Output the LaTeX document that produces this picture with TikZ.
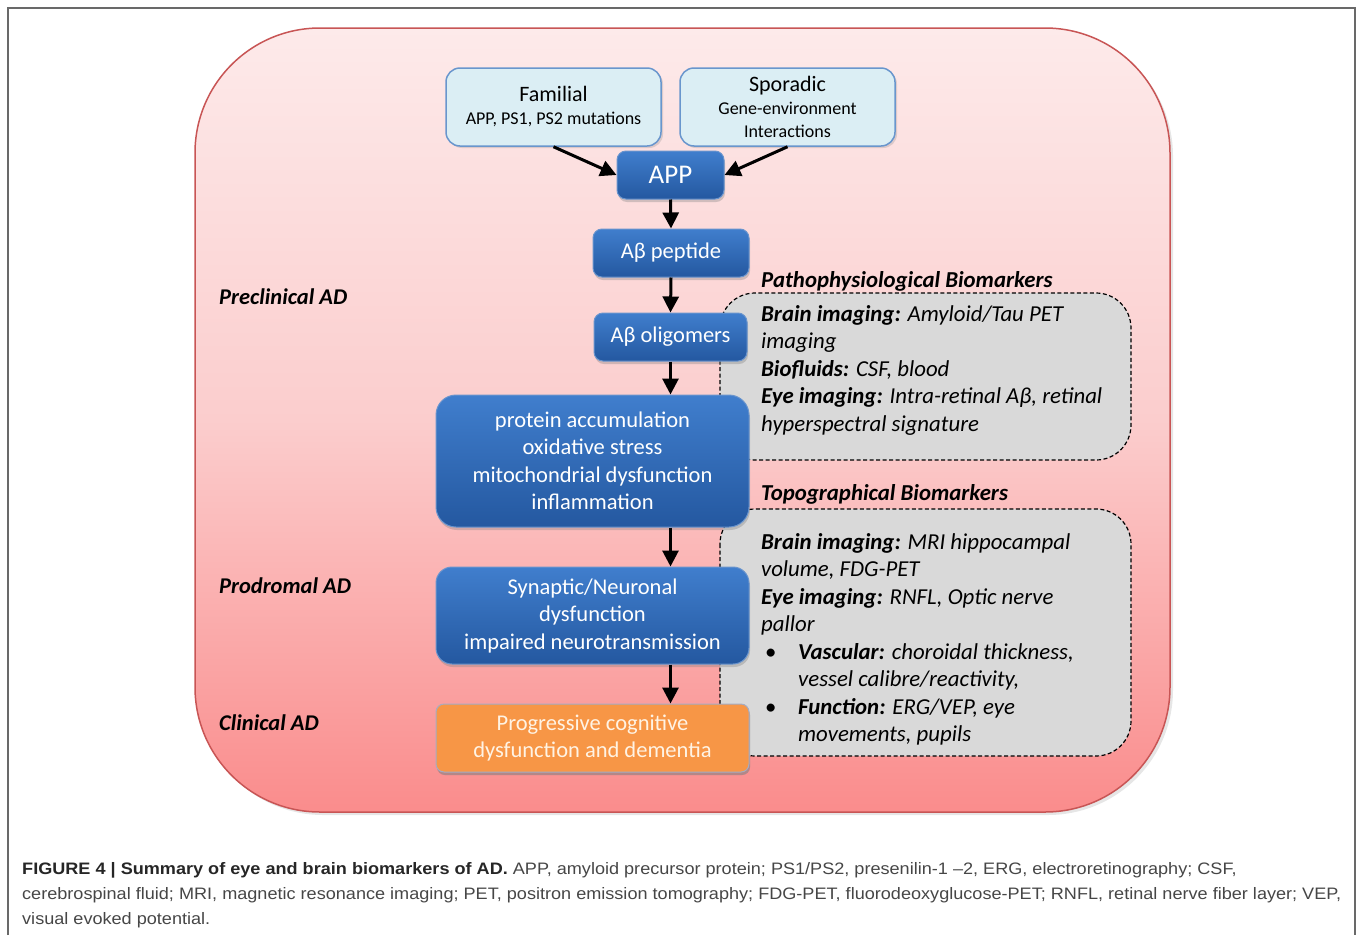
\documentclass[tikz,border=0pt]{standalone}
\usepackage{fontspec}
\setmainfont{Carlito}
\newfontfamily\capfont[FakeStretch=1.09]{Liberation Sans}
\usetikzlibrary{arrows.meta,shadows}

\definecolor{framegray}{RGB}{105,105,105}
\definecolor{bgtop}{RGB}{253,234,234}
\definecolor{bgmid}{RGB}{251,205,205}
\definecolor{bgbot}{RGB}{250,140,140}
\definecolor{bgedge}{RGB}{200,85,85}
\definecolor{stepblue}{RGB}{64,126,205}
\definecolor{stepdark}{RGB}{36,88,160}
\definecolor{stepedge}{RGB}{105,148,205}
\definecolor{srcfill}{RGB}{219,238,244}
\definecolor{srcedge}{RGB}{105,150,205}
\definecolor{endfill}{RGB}{247,150,70}
\definecolor{endedge}{RGB}{165,172,195}
\definecolor{endtext}{RGB}{255,243,228}
\definecolor{markfill}{RGB}{217,217,217}
\definecolor{captext}{RGB}{70,70,70}

\tikzset{
  stagepanel/.style={rounded corners=125pt, draw=bgedge, line width=1.5pt,
    top color=bgtop, bottom color=bgbot, middle color=bgmid,
    drop shadow={opacity=0.2, shadow xshift=3pt, shadow yshift=-3pt}},
  markpanel/.style={rounded corners=35pt, fill=markfill, draw=black,
    dash pattern=on 4pt off 2.5pt, line width=1.2pt},
  srcbox/.style={rounded corners=14pt, fill=srcfill, draw=srcedge, line width=1.5pt,
    align=center, inner sep=0pt, minimum width=215pt, minimum height=78pt,
    font=\fontsize{18}{23}\selectfont,
    drop shadow={opacity=0.25, shadow xshift=2pt, shadow yshift=-2pt}},
  flowbox/.style={rounded corners=9pt, top color=stepblue, bottom color=stepdark,
    draw=stepedge, line width=1pt, text=white, align=center, inner sep=0pt,
    font=\fontsize{22.5}{27.5}\selectfont,
    drop shadow={opacity=0.35, shadow xshift=1pt, shadow yshift=-3pt}},
  endbox/.style={flowbox, top color=endfill, bottom color=endfill, draw=endedge,
    text=endtext},
  stagelabel/.style={anchor=west, inner sep=0pt,
    font=\bfseries\itshape\fontsize{22.5}{27.5}\selectfont},
  marktext/.style={anchor=base west, align=left, inner sep=0pt,
    font=\itshape\fontsize{22.8}{27.5}\selectfont},
  flowarrow/.style={-{Triangle[length=16pt,width=16pt]}, line width=3pt}
}

\begin{document}
\begin{tikzpicture}[x=1pt,y=-1pt]
  \useasboundingbox (0,0) rectangle (1358,935);

  \draw[framegray, line width=1.5pt] (8,935) -- (8,8) -- (1355,8) -- (1355,935);

  \path[stagepanel] (195,28) rectangle (1170,812);

  \path[markpanel] (720,293) rectangle (1131,460);
  \path[markpanel] (720,509) rectangle (1131,756);

  \begin{scope}[every node/.style={stagelabel}]
    \node (9)  at (219,297) {Preclinical AD};
    \node (10) at (219,586) {Prodromal AD};
    \node (11) at (219,723) {Clinical AD};
  \end{scope}

  \begin{scope}[every node/.style={marktext}]
    \node (12) at (761,287) {\textbf{Pathophysiological Biomarkers}};
    \node (13) at (761,431) {\textbf{Brain imaging:} Amyloid/Tau PET\\
      imaging\\
      \textbf{Biofluids:} CSF, blood\\
      \textbf{Eye imaging:} Intra-retinal Aβ, retinal\\
      hyperspectral signature};
    \node (14) at (761,500) {\textbf{Topographical Biomarkers}};
    \node (15) at (761,741.5) {\textbf{Brain imaging:} MRI hippocampal\\
      volume, FDG-PET\\
      \textbf{Eye imaging:} RNFL, Optic nerve\\
      pallor\\
      \hspace*{4pt}\makebox[33pt][l]{\upshape\textbullet}\textbf{Vascular:} choroidal thickness,\\
      \hspace*{37pt}vessel calibre/reactivity,\\
      \hspace*{4pt}\makebox[33pt][l]{\upshape\textbullet}\textbf{Function:} ERG/VEP, eye\\
      \hspace*{37pt}movements, pupils};
  \end{scope}

  \begin{scope}[every node/.style={srcbox}]
    \node (1) at (553.5,107) {{\fontsize{22}{26}\selectfont Familial}\\APP, PS1, PS2 mutations};
    \node (2) at (787.5,107) {{\fontsize{22}{26}\selectfont Sporadic}\\Gene-environment\\Interactions};
  \end{scope}

  \begin{scope}[every node/.style={flowbox}]
    \node[minimum width=107pt, minimum height=48pt, font=\fontsize{27}{30}\selectfont] (3) at (670.5,175) {APP};
    \node[minimum width=156pt, minimum height=48pt] (4) at (671,253) {Aβ peptide};
    \node[minimum width=153pt, minimum height=48pt] (5) at (670.5,337) {Aβ oligomers};
    \node[minimum width=313pt, minimum height=132pt, rounded corners=20pt] (6) at (592.5,461)
      {protein accumulation\\oxidative stress\\mitochondrial dysfunction\\inflammation};
    \node[minimum width=313pt, minimum height=97pt, rounded corners=16pt] (7) at (592.5,615.5)
      {Synaptic/Neuronal\\dysfunction\\impaired neurotransmission};
    \node[endbox, minimum width=313pt, minimum height=68pt, rounded corners=8pt] (8) at (592.5,738)
      {Progressive cognitive\\dysfunction and dementia};
  \end{scope}

  \begin{scope}[every edge/.style={draw, flowarrow}]
    \path (1.south) edge (3.west);
    \path (2.south) edge (3.east);
    \path (3.south) edge (4.north);
    \path (4.south) edge (5.north);
    \path (5.south) edge (5.south |- 6.north);
    \path (6.south -| 5) edge (7.north -| 5);
    \path (7.south -| 5) edge (8.north -| 5);
  \end{scope}

  \node[anchor=base west, align=left, inner sep=0pt, text=captext,
    font=\capfont\fontsize{16.6}{25}\selectfont] (16) at (22,924)
    {\textbf{\color{black!85}FIGURE 4 | Summary of eye and brain biomarkers of AD.} APP, amyloid precursor protein; PS1/PS2, presenilin-1 –2, ERG, electroretinography; CSF,\\
     cerebrospinal fluid; MRI, magnetic resonance imaging; PET, positron emission tomography; FDG-PET, fluorodeoxyglucose-PET; RNFL, retinal nerve fiber layer; VEP,\\
     visual evoked potential.};

\end{tikzpicture}
\end{document}
